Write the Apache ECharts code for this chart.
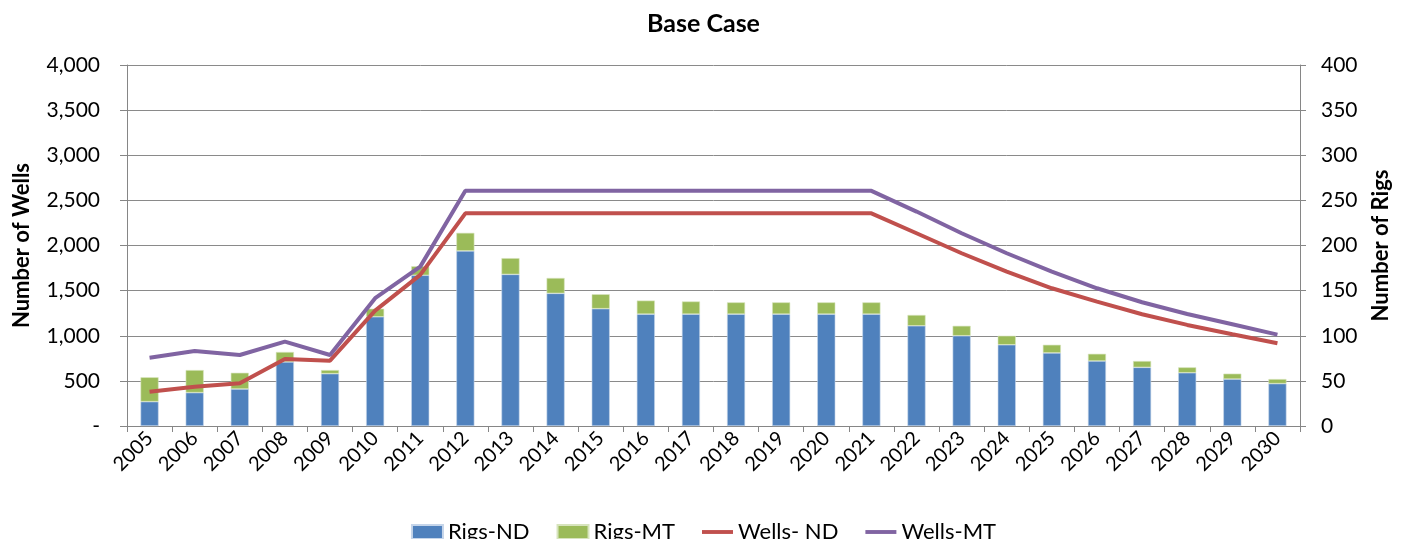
<!DOCTYPE html>
<html>
<head>
<meta charset="utf-8">
<script src="https://cdn.jsdelivr.net/npm/echarts@6/dist/echarts.min.js"></script>
<style>
  html, body { margin: 0; padding: 0; background: #fff; }
  #chart { width: 1407px; height: 539px; }
</style>
</head>
<body>
<div id="chart"></div>
<script>
// years on the category axis
var years = ['2005','2006','2007','2008','2009','2010','2011','2012','2013','2014','2015','2016','2017',
  '2018','2019','2020','2021','2022','2023','2024','2025','2026','2027','2028','2029','2030'];

// rigs (right axis), stacked
var rigsND = [27, 37, 41, 71, 58, 121, 167, 194, 168, 147, 130, 124, 124, 124, 124, 124, 124,
  111, 100, 90, 81, 72, 65, 59, 52, 47];
var rigsMT = [27, 25, 18, 11, 4, 9, 10, 20, 18, 17, 16, 15, 14, 13, 13, 13, 13,
  12, 11, 10, 9, 8, 7, 6, 6, 5];

// wells (left axis)
var wellsND = [380, 436, 473, 743, 724, 1279, 1674, 2356, 2356, 2356, 2356, 2356, 2356, 2356, 2356, 2356, 2356,
  2136, 1914, 1711, 1526, 1378, 1238, 1120, 1017, 917];
var wellsMT = [757, 831, 787, 935, 787, 1416, 1766, 2606, 2606, 2606, 2606, 2606, 2606, 2606, 2606, 2606, 2606,
  2376, 2136, 1914, 1711, 1526, 1371, 1241, 1127, 1012];

var font = 'Lato, "Open Sans", sans-serif';
var axisGray = '#868686';
var lineIcon = 'path://M0,0 H32 V4 H0 Z';

var chart = echarts.init(document.getElementById('chart'));
chart.setOption({
  animation: false,
  textStyle: { fontFamily: font },
  title: {
    text: 'Base Case',
    left: 'center',
    top: 6,
    textStyle: { fontSize: 25, fontWeight: 'bold', color: '#000', fontFamily: font }
  },
  legend: {
    bottom: -9,
    left: 'center',
    itemGap: 27,
    itemWidth: 31,
    itemHeight: 14,
    textStyle: { fontSize: 22, color: '#000', fontFamily: font },
    data: [
      { name: 'Rigs-ND', icon: 'rect' },
      { name: 'Rigs-MT', icon: 'rect' },
      { name: 'Wells- ND', icon: lineIcon },
      { name: 'Wells-MT', icon: lineIcon }
    ]
  },
  grid: { left: 127, right: 107, top: 65, bottom: 113 },
  xAxis: {
    type: 'category',
    data: years,
    axisLine: { lineStyle: { color: axisGray } },
    axisTick: { show: true, alignWithLabel: false, length: 6, lineStyle: { color: axisGray } },
    axisLabel: { rotate: 45, fontSize: 20, color: '#000', margin: 9, interval: 0 }
  },
  yAxis: [
    {
      type: 'value',
      name: 'Number of Wells',
      nameLocation: 'middle',
      nameGap: 94,
      nameTextStyle: { fontSize: 22, fontWeight: 'bold', color: '#000' },
      min: 0, max: 4000, interval: 500,
      axisLine: { show: true, lineStyle: { color: axisGray } },
      axisTick: { show: true, length: 7, lineStyle: { color: axisGray } },
      splitLine: { lineStyle: { color: '#8a8a8a', width: 1 } },
      axisLabel: {
        fontSize: 21, color: '#000', margin: 27,
        formatter: function (v) { return v === 0 ? '-' : v.toLocaleString('en-US'); }
      }
    },
    {
      type: 'value',
      name: 'Number of Rigs',
      nameLocation: 'middle',
      nameGap: 70,
      nameTextStyle: { fontSize: 22, fontWeight: 'bold', color: '#000' },
      min: 0, max: 400, interval: 50,
      axisLine: { show: true, lineStyle: { color: axisGray } },
      axisTick: { show: true, length: 6, lineStyle: { color: axisGray } },
      splitLine: { show: false },
      axisLabel: { fontSize: 21, color: '#000', margin: 21 }
    }
  ],
  series: [
    {
      name: 'Rigs-ND', type: 'bar', stack: 'rigs', yAxisIndex: 1, barWidth: '40%',
      itemStyle: { color: '#4F81BD', borderColor: '#c5d5ea', borderWidth: 0.6 },
      data: rigsND
    },
    {
      name: 'Rigs-MT', type: 'bar', stack: 'rigs', yAxisIndex: 1, barWidth: '40%',
      itemStyle: { color: '#9BBB59', borderColor: '#d7e4bd', borderWidth: 0.6 },
      data: rigsMT
    },
    {
      name: 'Wells- ND', type: 'line', yAxisIndex: 0, symbol: 'none',
      lineStyle: { color: '#C0504D', width: 4 }, itemStyle: { color: '#C0504D' },
      data: wellsND
    },
    {
      name: 'Wells-MT', type: 'line', yAxisIndex: 0, symbol: 'none',
      lineStyle: { color: '#8064A2', width: 4 }, itemStyle: { color: '#8064A2' },
      data: wellsMT
    }
  ]
});
</script>
</body>
</html>
